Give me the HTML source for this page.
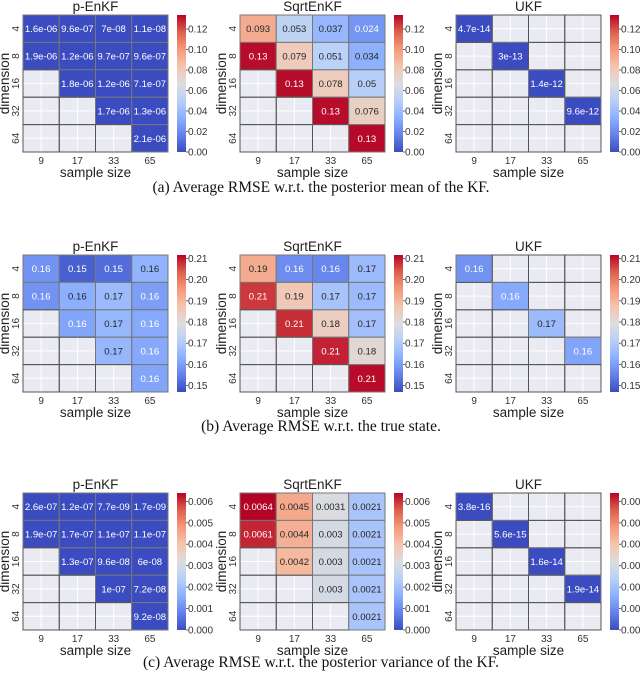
<!DOCTYPE html>
<html><head><meta charset="utf-8">
<style>
html,body{margin:0;padding:0;background:#fff;}
svg{display:block;font-family:"Liberation Sans",sans-serif;}
.cap{font-family:"Liberation Serif",serif;font-size:15.5px;fill:#111;}
</style></head>
<body>
<svg id="fig" width="640" height="674" viewBox="0 0 640 674" xmlns="http://www.w3.org/2000/svg"></svg>
<script>
// ---- data ----
const sampleSizes = ["9","17","33","65"];
const dimensions = ["4","8","16","32","64"];
const methods = ["p-EnKF","SqrtEnKF","UKF"];
const captions = ["(a)  Average RMSE w.r.t. the posterior mean of the KF.",
                  "(b)  Average RMSE w.r.t. the true state.",
                  "(c)  Average RMSE w.r.t. the posterior variance of the KF."];
// null = masked cell
const meanPEnKF = [[1.6e-06,9.6e-07,7e-08,1.1e-08],[1.9e-06,1.2e-06,9.7e-07,9.6e-07],[null,1.8e-06,1.2e-06,7.1e-07],[null,null,1.7e-06,1.3e-06],[null,null,null,2.1e-06]];
const meanSqrt = [[0.093,0.053,0.037,0.024],[0.132,0.079,0.051,0.034],[null,0.132,0.078,0.05],[null,null,0.132,0.076],[null,null,null,0.133]];
const meanUKF = [[4.7e-14,null,null,null],[null,3e-13,null,null],[null,null,1.4e-12,null],[null,null,null,9.6e-12],[null,null,null,null]];
const trueKPEnKF = [[0.158,0.150,0.152,0.164],[0.158,0.163,0.166,0.160],[null,0.161,0.165,0.162],[null,null,0.165,0.162],[null,null,null,0.161]];
const trueSqrt = [[0.192,0.157,0.156,0.166],[0.207,0.186,0.168,0.166],[null,0.208,0.184,0.167],[null,null,0.209,0.181],[null,null,null,0.211]];
const trueUKF = [[0.158,null,null,null],[null,0.162,null,null],[null,null,0.166,null],[null,null,null,0.161],[null,null,null,null]];
const varPEnKF = [[2.6e-07,1.2e-07,7.7e-09,1.7e-09],[1.9e-07,1.7e-07,1.1e-07,1.1e-07],[null,1.3e-07,9.6e-08,6e-08],[null,null,1e-07,7.2e-08],[null,null,null,9.2e-08]];
const varSqrt = [[0.0064,0.0045,0.0031,0.0021],[0.0061,0.0044,0.003,0.0021],[null,0.0042,0.003,0.0021],[null,null,0.003,0.0021],[null,null,null,0.0021]];
const varUKF = [[3.8e-16,null,null,null],[null,5.6e-15,null,null],[null,null,1.6e-14,null],[null,null,null,1.9e-14],[null,null,null,null]];
const colorRanges = [[0,0.1337],[0.147,0.2116],[0,0.00639]];
const cbTicksA = [0,0.02,0.04,0.06,0.08,0.10,0.12];
const cbTicksB = [0.15,0.16,0.17,0.18,0.19,0.20,0.21];
const cbTicksC = [0,0.001,0.002,0.003,0.004,0.005,0.006];
const cbDigits = [2,2,3];

const grids = [[meanPEnKF,meanSqrt,meanUKF],[trueKPEnKF,trueSqrt,trueUKF],[varPEnKF,varSqrt,varUKF]];
const cbTicks = [cbTicksA,cbTicksB,cbTicksC];

// ---- layout ----
const NS="http://www.w3.org/2000/svg";
const svg=document.getElementById('fig');
const panelLeft=[23,240,456], rowTop=[15,255,493], HW=145, HH=137;
const capY=[192,431,667];
const CM=[[0,59,76,192],[.125,98,130,234],[.25,141,176,254],[.375,184,208,249],[.5,221,221,221],[.625,245,196,173],[.75,244,154,123],[.875,222,96,77],[1,180,4,38]];
function cmap(t){t=Math.max(0,Math.min(1,t));for(let i=1;i<CM.length;i++){if(t<=CM[i][0]){const a=CM[i-1],b=CM[i],f=(t-a[0])/(b[0]-a[0]);return [0,1,2].map(k=>Math.round(a[k+1]+(b[k+1]-a[k+1])*f));}}return CM[8].slice(1);}
function lum(c){const l=c.map(v=>{v/=255;return v<=0.03928?v/12.92:Math.pow((v+0.055)/1.055,2.4);});return 0.2126*l[0]+0.7152*l[1]+0.0722*l[2];}
function fmt(v){const e=Math.floor(Math.log10(Math.abs(v)));if(e<-4||e>=2){let s=v.toExponential(1);let [m,x]=s.split('e');m=m.replace(/\.0$/,'');let n=parseInt(x);let sign=n<0?'-':'+';n=Math.abs(n);return m+'e'+sign+(n<10?'0'+n:n);}let s=v.toPrecision(2);if(s.indexOf('.')>=0)s=s.replace(/0+$/,'').replace(/\.$/,'');return s;}
function el(tag,attrs,parent,text){const e=document.createElementNS(NS,tag);for(const k in attrs)e.setAttribute(k,attrs[k]);if(text!==undefined)e.textContent=text;(parent||svg).appendChild(e);return e;}

const defs=el('defs',{});
const lg=el('linearGradient',{id:'cw',x1:'0',y1:'1',x2:'0',y2:'0'},defs);
CM.forEach(s=>el('stop',{offset:s[0],'stop-color':`rgb(${s[1]},${s[2]},${s[3]})`},lg));

for(let r=0;r<3;r++){
  const [vmin,vmax]=colorRanges[r];
  const top=rowTop[r], cw=HW/sampleSizes.length, ch=HH/dimensions.length;
  for(let p=0;p<3;p++){
    const left=panelLeft[p], data=grids[r][p];
    const g=el('g',{});
    
    
    const title=el('text',{x:left+HW/2,y:top-4,'text-anchor':'middle','font-size':'13.5',fill:'#222'},g,methods[p]);
    
    
    el('rect',{x:left,y:top,width:HW,height:HH,fill:'#eaeaf2'},g);
    for(let j=0;j<sampleSizes.length;j++) el('line',{x1:left+(j+.5)*cw,x2:left+(j+.5)*cw,y1:top,y2:top+HH,stroke:'#fff','stroke-width':1},g);
    for(let i=0;i<dimensions.length;i++) el('line',{x1:left,x2:left+HW,y1:top+(i+.5)*ch,y2:top+(i+.5)*ch,stroke:'#fff','stroke-width':1},g);
    for(let i=0;i<dimensions.length;i++)for(let j=0;j<sampleSizes.length;j++){
      const v=data[i][j];
      const x=left+j*cw,y=top+i*ch;
      if(v===null){el('rect',{x:x,y:y,width:cw,height:ch,fill:'none',stroke:'#555','stroke-width':1},g);continue;}
      const c=cmap((v-vmin)/(vmax-vmin));
      const cell=el('rect',{x:x,y:y,width:cw,height:ch,fill:`rgb(${c})`,stroke:'#777','stroke-width':1},g);
      
      
      const t=el('text',{x:x+cw/2,y:y+ch/2+3.5,'text-anchor':'middle','font-size':'9.6',fill:lum(c)<=0.408?'#fff':'#262626'},g,fmt(v));
      
      
    }
    sampleSizes.forEach((s,j)=>{const t=el('text',{x:left+(j+.5)*cw,y:top+HH+12,'text-anchor':'middle','font-size':'10',fill:'#333'},g,s);
      
      });
    const xl=el('text',{x:left+HW/2,y:top+HH+25,'text-anchor':'middle','font-size':'13.5',fill:'#222'},g,'sample size');
    
    
    dimensions.forEach((d,i)=>{const cx=left-4,cy=top+(i+.5)*ch;const t=el('text',{x:cx,y:cy,'text-anchor':'middle','font-size':'10',fill:'#333',transform:`rotate(-90 ${cx} ${cy})`},g,d);
      
      });
    const yx=left-14,yy=top+HH/2;
    const yl=el('text',{x:yx,y:yy,'text-anchor':'middle','font-size':'13.5',fill:'#222',transform:`rotate(-90 ${yx} ${yy})`},g,'dimension');
    
    
    const cbx=left+HW+9;
    const cb=el('rect',{x:cbx,y:top,width:9,height:HH,fill:'url(#cw)'},g);
    
    
    cbTicks[r].forEach(tv=>{const ty=top+HH-(tv-vmin)/(vmax-vmin)*HH;
      el('line',{x1:cbx+9,x2:cbx+11,y1:ty,y2:ty,stroke:'#444','stroke-width':0.8},g);
      const t=el('text',{x:cbx+11,y:ty+3.5,'font-size':'10',fill:'#333'},g,tv.toFixed(cbDigits[r]));
      
      });
  }
  const cap=el('text',{x:321,y:capY[r],'text-anchor':'middle',class:'cap'},svg,captions[r]);
  
  
}
</script>
</body></html>
